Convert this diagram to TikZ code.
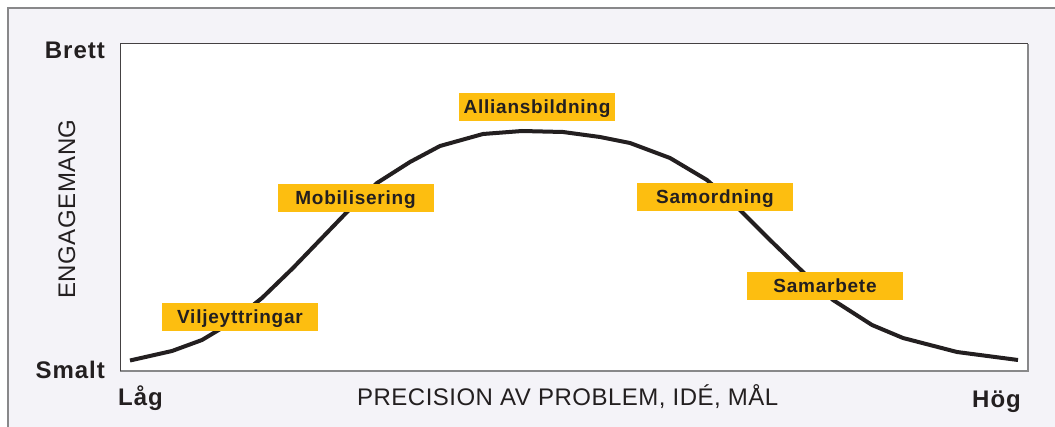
\documentclass[tikz,border=0pt]{standalone}
\usepackage{fontspec}
\setmainfont{Liberation Sans}
\newfontfamily\labfont{Liberation Sans}[LetterSpace=4]
\newfontfamily\axisfont{Liberation Sans}[LetterSpace=2]
\definecolor{ink}{RGB}{35,31,32}
\definecolor{phase}{RGB}{253,190,16}
\definecolor{panel}{RGB}{244,243,248}
\definecolor{framegray}{RGB}{136,136,138}
\begin{document}
\begin{tikzpicture}[x=1pt,y=-1pt,
  phasebox/.style={fill=phase, inner sep=0pt, minimum width=156pt, minimum height=28pt,
    text height=13.5pt, text depth=0pt, text=ink,
    font=\labfont\bfseries\fontsize{19}{22}\selectfont},
  endlabel/.style={inner sep=0pt, text=ink, font=\labfont\bfseries\fontsize{24}{28}\selectfont},
  axistitle/.style={inner sep=0pt, text=ink, font=\axisfont\fontsize{24}{28}\selectfont}]
  % page and outer panel
  \useasboundingbox (0,0) rectangle (1055,427);
  \fill[white] (0,0) rectangle (1055,427);
  \draw[framegray, line width=1.5pt, fill=panel] (8,8) rectangle (1070,440);
  % plot area
  \fill[white] (120,44) rectangle (1028,371);
  \draw[framegray, line width=1.8pt] (120,371) -- (1028,371) -- (1028,44);
  \draw[ink!85, line width=1pt] (120,371) -- (120,44) -- (1028,44);
  % engagement curve
  \draw[ink, line width=4pt, line join=round]
    (130,360.5) -- (172,351) -- (202,340) -- (232,322) -- (262,298) -- (293,268)
    -- (320,240) -- (347,212) -- (377,183) -- (410,162) -- (440,146) -- (483,134)
    -- (522,131) -- (563,132) -- (600,137) -- (630,143) -- (670,158) -- (707,180)
    -- (737,207) -- (770,240) -- (803,272) -- (833,300) -- (872,325) -- (903,338)
    -- (957,352) -- (1018,360);
  % phases
  \node[phasebox] (vilje) at (240,317) {Viljeyttringar};
  \node[phasebox] (mobil) at (355.5,198) {Mobilisering};
  \node[phasebox] (allians) at (537,107) {Alliansbildning};
  \node[phasebox] (samord) at (715,196.7) {Samordning};
  \node[phasebox] (samarb) at (825,286) {Samarbete};
  % axis labels
  \node[endlabel, anchor=base east] (brett) at (105,58.3) {Brett};
  \node[endlabel, anchor=base east] (smalt) at (105,378.3) {Smalt};
  \node[endlabel, anchor=base west] (lag) at (118,406) {Låg};
  \node[endlabel, anchor=base east] (hog) at (1021,407.3) {Hög};
  \node[axistitle, anchor=base] (xtitle) at (567.7,405.7) {PRECISION AV PROBLEM, IDÉ, MÅL};
  \node[axistitle, anchor=base, rotate=90] (ytitle) at (75,209) {ENGAGEMANG};
\end{tikzpicture}
\end{document}
